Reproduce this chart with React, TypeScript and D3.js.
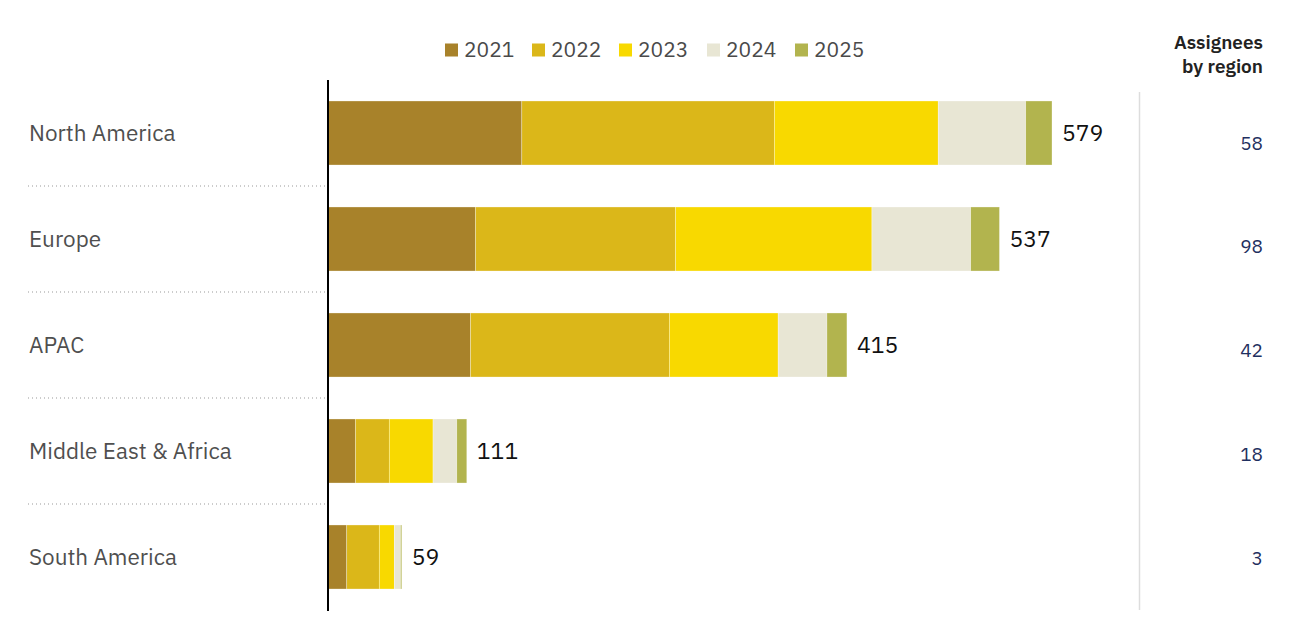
import React from "react";
import * as d3 from "d3";

const regions = ["North America", "Europe", "APAC", "Middle East & Africa", "South America"];
const years = ["2021", "2022", "2023", "2024", "2025"];
const v2021 = [155, 118, 114, 22, 15];
const v2022 = [202, 160, 159, 27, 26];
const v2023 = [131, 157, 87, 35, 12];
const v2024 = [70, 79, 39, 19, 5];
const v2025 = [21, 23, 16, 8, 1];
const assignees = [58, 98, 42, 18, 3];
const colors = ["#a8822a", "#dbb719", "#f8d900", "#e8e6d4", "#b2b44e"];

const W = 1295;
const H = 632;
const FONT = "'IBM Plex Sans', Roboto, 'Noto Sans', sans-serif";

export default function App() {
  const series = [v2021, v2022, v2023, v2024, v2025];
  const rows = regions.map((r, i) => {
    const o: any = { region: r };
    years.forEach((y, k) => (o[y] = series[k][i]));
    return o;
  });
  const stacked = d3.stack<any>().keys(years)(rows);
  const totals = regions.map((_, i) => d3.sum(series, (s) => s[i]));

  const x = d3.scaleLinear().domain([0, 579]).range([328, 1052]);
  const y = d3
    .scaleBand<string>()
    .domain(regions)
    .range([80, 610])
    .paddingInner(0.396)
    .paddingOuter(0.198);
  const bw = y.bandwidth();
  const gap = y.step() - bw;
  const yRight = d3.scalePoint<string>().domain(regions).range([143, 558]);

  const legendX = [445, 532, 619, 707, 795];

  return (
    <svg
      width={W}
      height={H}
      style={{ position: "absolute", left: 0, top: 0, background: "#fff" }}
      fontFamily={FONT}
    >
      {/* legend */}
      {years.map((yr, k) => (
        <g key={yr} transform={`translate(${legendX[k]},50)`}>
          <rect x={0} y={-6.5} width={13} height={13} fill={colors[k]} />
          <text x={19} y={0} dy="0.35em" fontSize={21} fill="#4a4a4a">
            {yr}
          </text>
        </g>
      ))}

      {/* header */}
      <text x={1263} y={49} textAnchor="end" fontSize={19} fontWeight={600} fill="#222">
        Assignees
      </text>
      <text x={1263} y={73} textAnchor="end" fontSize={19} fontWeight={600} fill="#222">
        by region
      </text>

      {/* region labels & separators */}
      {regions.map((r, i) => (
        <g key={r}>
          <text
            x={29}
            y={(y(r) as number) + bw / 2}
            dy="0.35em"
            fontSize={22.5}
            fill="#4f4f4f"
          >
            {r}
          </text>
          {i < regions.length - 1 && (
            <line
              x1={28}
              x2={325}
              y1={(y(r) as number) + bw + gap / 2}
              y2={(y(r) as number) + bw + gap / 2}
              stroke="#999"
              strokeWidth={1}
              strokeDasharray="1,3"
            />
          )}
        </g>
      ))}

      {/* bars */}
      {stacked.map((layer, k) =>
        layer.map((d, i) => (
          <rect
            key={`${k}-${i}`}
            x={x(d[0])}
            y={y(regions[i])}
            width={Math.max(0, x(d[1]) - x(d[0]))}
            height={bw}
            fill={colors[k]}
            stroke="#ffffff"
            strokeOpacity={0.5}
            strokeWidth={0.6}
          />
        ))
      )}

      {/* totals */}
      {regions.map((r, i) => (
        <text
          key={r}
          x={x(totals[i]) + 10}
          y={(y(r) as number) + bw / 2}
          dy="0.35em"
          fontSize={23}
          fill="#111"
        >
          {totals[i]}
        </text>
      ))}

      {/* axis */}
      <line x1={328} x2={328} y1={80} y2={611} stroke="#000" strokeWidth={2} />

      {/* right divider */}
      <line x1={1139.5} x2={1139.5} y1={92} y2={610} stroke="#ddd" strokeWidth={1.5} />

      {/* assignees */}
      {regions.map((r, i) => (
        <text
          key={r}
          x={1263}
          y={yRight(r)}
          dy="0.35em"
          textAnchor="end"
          fontSize={19}
          fill="#1f3060"
        >
          {assignees[i]}
        </text>
      ))}
    </svg>
  );
}
